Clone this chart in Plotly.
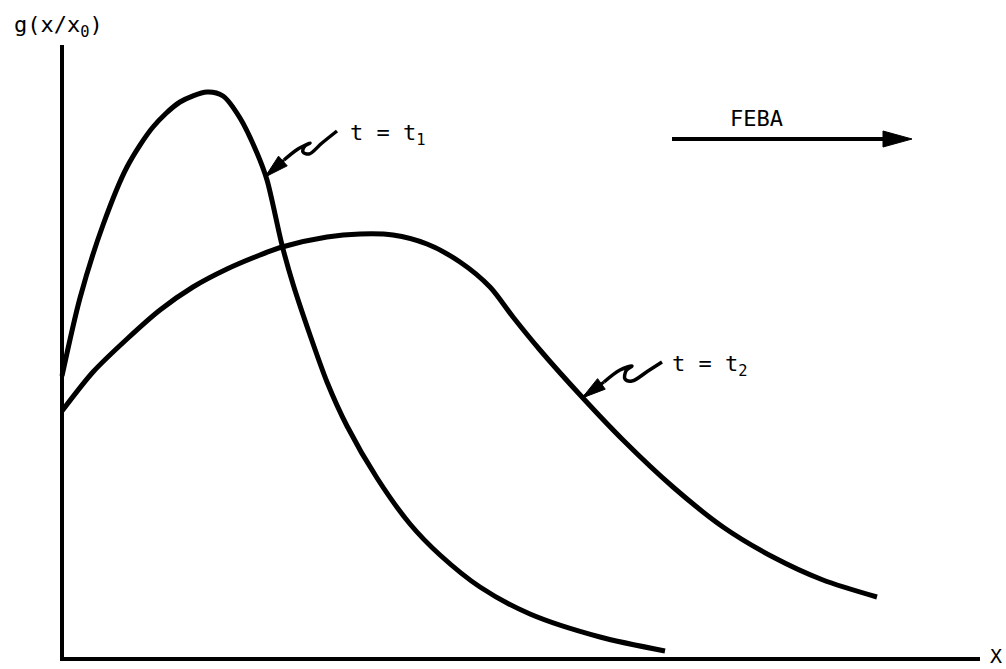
import plotly.graph_objects as go

# Distribution profile at the earlier time t1 (sharp peak near the origin)
t1_x = [0.00, 0.18, 0.41, 0.65, 0.91, 1.18, 1.45, 1.61, 1.78, 1.95, 2.05, 2.20,
        2.31, 2.48, 2.65, 2.85, 3.15, 3.48, 3.78, 4.18, 4.68, 5.38, 6.03]
t1_y = [2.82, 3.60, 4.33, 4.91, 5.31, 5.56, 5.66, 5.62, 5.40, 5.05, 4.78, 4.13,
        3.74, 3.23, 2.76, 2.32, 1.80, 1.34, 1.03, 0.71, 0.44, 0.21, 0.07]

# Distribution profile at the later time t2 (broader, shifted forward)
t2_x = [0.00, 0.31, 0.65, 0.98, 1.31, 1.65, 1.98, 2.20, 2.65, 2.98, 3.31, 3.65,
        3.98, 4.28, 4.51, 4.78, 5.20, 5.61, 6.11, 6.61, 7.11, 7.61, 8.15]
t2_y = [2.47, 2.86, 3.19, 3.48, 3.71, 3.89, 4.03, 4.11, 4.21, 4.24, 4.23, 4.14,
        3.96, 3.71, 3.41, 3.08, 2.61, 2.18, 1.71, 1.31, 1.01, 0.78, 0.61]

# Hand-drawn squiggle leaders for the curve labels (last point is the arrow tip)
sq1_x = [2.75, 2.60, 2.47, 2.41, 2.43, 2.48, 2.36, 2.22, 2.03]
sq1_y = [5.27, 5.15, 5.04, 5.06, 5.12, 5.15, 5.09, 4.98, 4.81]

sq2_x = [6.00, 5.86, 5.70, 5.63, 5.64, 5.70, 5.58, 5.42, 5.20]
sq2_y = [2.96, 2.87, 2.77, 2.79, 2.87, 2.92, 2.88, 2.76, 2.60]

# Direction-of-advance arrow
feba_x = [6.10, 8.50]
feba_y = [5.19, 5.19]

INK = "#000000"
FONT = "DejaVu Sans Mono"


def arrow_head(tip_x, tip_y, from_x, from_y, length, width):
    """Filled triangle pointing from (from_x, from_y) towards the tip."""
    dx, dy = tip_x - from_x, tip_y - from_y
    d = (dx * dx + dy * dy) ** 0.5
    ux, uy = dx / d, dy / d
    bx, by = tip_x - ux * length, tip_y - uy * length
    px, py = -uy * width / 2, ux * width / 2
    return ([tip_x, bx + px, bx - px, tip_x], [tip_y, by + py, by - py, tip_y])


fig = go.Figure()

# Axes drawn as plain strokes
fig.add_trace(go.Scatter(x=[0, 0, 9.18], y=[6.13, -0.01, -0.01], mode="lines",
                         line=dict(color=INK, width=4), hoverinfo="skip"))

for xs, ys in ((t1_x, t1_y), (t2_x, t2_y)):
    fig.add_trace(go.Scatter(x=xs, y=ys, mode="lines",
                             line=dict(color=INK, width=5, shape="spline", smoothing=0.8),
                             hoverinfo="skip"))

# Squiggle leaders with elongated arrowheads
for sx, sy in ((sq1_x, sq1_y), (sq2_x, sq2_y)):
    fig.add_trace(go.Scatter(x=sx[:-1], y=sy[:-1], mode="lines",
                             line=dict(color=INK, width=3.5, shape="spline", smoothing=1.0),
                             hoverinfo="skip"))
    fig.add_trace(go.Scatter(x=[sx[-2], sx[-1]], y=[sy[-2], sy[-1]], mode="lines",
                             line=dict(color=INK, width=3), hoverinfo="skip"))
    hx, hy = arrow_head(sx[-1], sy[-1], sx[-2], sy[-2], 0.24, 0.13)
    fig.add_trace(go.Scatter(x=hx, y=hy, mode="lines", fill="toself", fillcolor=INK,
                             line=dict(color=INK, width=1), hoverinfo="skip"))

# FEBA arrow
fig.add_trace(go.Scatter(x=[feba_x[0], feba_x[1] - 0.2], y=feba_y, mode="lines",
                         line=dict(color=INK, width=4), hoverinfo="skip"))
hx, hy = arrow_head(feba_x[1], feba_y[1], feba_x[0], feba_y[0], 0.29, 0.16)
fig.add_trace(go.Scatter(x=hx, y=hy, mode="lines", fill="toself", fillcolor=INK,
                         line=dict(color=INK, width=1), hoverinfo="skip"))

text_font = dict(family=FONT, size=22, color=INK)
annotations = [
    dict(x=-0.50, y=6.32, xref="x", yref="y", xanchor="left", yanchor="middle",
         text="g(x/x<sub>0</sub>)", showarrow=False, font=text_font),
    dict(x=2.86, y=5.24, xref="x", yref="y", xanchor="left", yanchor="middle",
         text="t = t<sub>1</sub>", showarrow=False, font=text_font),
    dict(x=6.08, y=2.93, xref="x", yref="y", xanchor="left", yanchor="middle",
         text="t = t<sub>2</sub>", showarrow=False, font=text_font),
    dict(x=6.94, y=5.40, xref="x", yref="y", xanchor="center", yanchor="middle",
         text="FEBA", showarrow=False, font=text_font),
    dict(x=9.41, y=-0.11, xref="x", yref="y", xanchor="right", yanchor="bottom",
         text="X", showarrow=False, borderpad=0,
         font=dict(family=FONT, size=20, color=INK)),
]

fig.update_layout(
    width=1006, height=669,
    margin=dict(l=0, r=0, t=0, b=0),
    paper_bgcolor="white", plot_bgcolor="white",
    showlegend=False,
    xaxis=dict(range=[-0.62, 9.44], visible=False, fixedrange=True),
    yaxis=dict(range=[-0.11, 6.58], visible=False, fixedrange=True),
    annotations=annotations,
)

fig.write_html("out.html")
